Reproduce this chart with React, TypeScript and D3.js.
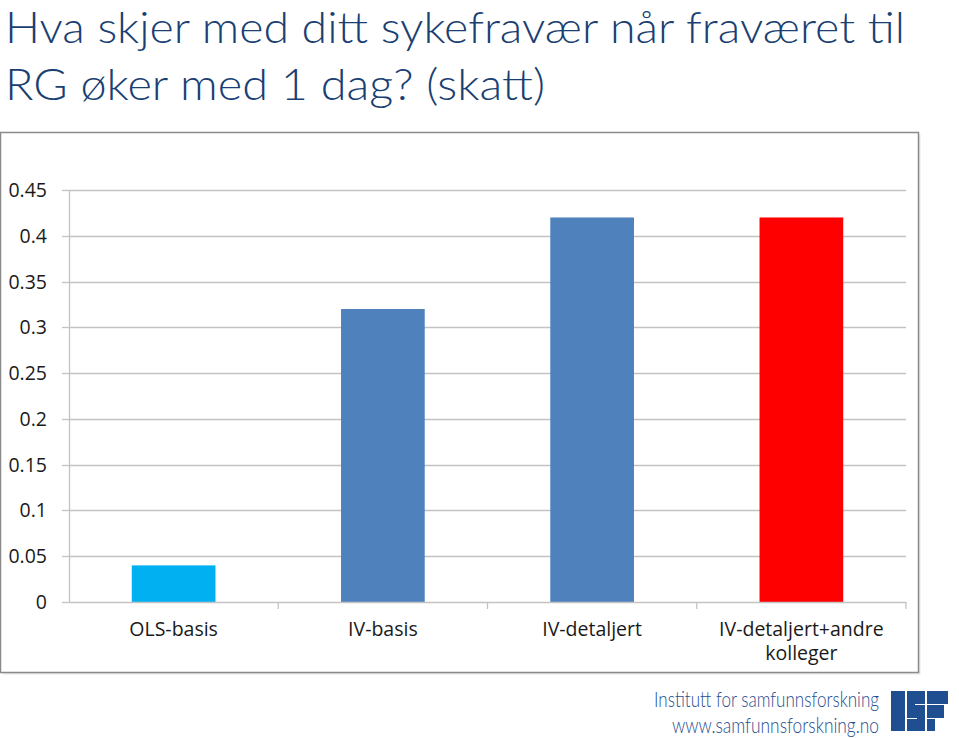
import React from "react";
import * as d3 from "d3";

const categories = ["OLS-basis", "IV-basis", "IV-detaljert", "IV-detaljert+andre kolleger"];
const categoryLines = [["OLS-basis"], ["IV-basis"], ["IV-detaljert"], ["IV-detaljert+andre", "kolleger"]];
const values = [0.04, 0.32, 0.42, 0.42];
const barColors = ["#00B0F0", "#4F81BD", "#4F81BD", "#FF0000"];
const yTicks = [0, 0.05, 0.1, 0.15, 0.2, 0.25, 0.3, 0.35, 0.4, 0.45];
const yTickLabels = ["0", "0.05", "0.1", "0.15", "0.2", "0.25", "0.3", "0.35", "0.4", "0.45"];
const titleLines = ["Hva skjer med ditt sykefravær når fraværet til", "RG øker med 1 dag? (skatt)"];
const footerLines = ["Institutt for samfunnsforskning", "www.samfunnsforskning.no"];

const W = 959;
const H = 738;
const plotLeft = 69;
const plotRight = 906;
const plotTop = 190;
const plotBottom = 602;

export default function App() {
  const x = d3.scaleBand<string>().domain(categories).range([plotLeft, plotRight]).padding(0);
  const y = d3.scaleLinear().domain([0, 0.45]).range([plotBottom, plotTop]);
  const bw = x.bandwidth() * 0.4;
  const gridColor = "#c3c3c3";
  const axisFont = "'Open Sans', 'DejaVu Sans', sans-serif";
  const titleColor = "#1a3f72";
  const logoColor = "#1f4e91";

  return (
    <svg
      width={W}
      height={H}
      style={{ position: "fixed", left: 0, top: 0, background: "#fff" }}
    >
      <rect x={0} y={0} width={W} height={H} fill="#fff" />
      {/* Title */}
      <text x={5} y={42.5} fontFamily="Lato, 'Open Sans', sans-serif" fontWeight={300} fontSize={43} fill={titleColor}
        textLength={900} lengthAdjust="spacingAndGlyphs">{titleLines[0]}</text>
      <text x={5} y={99.5} fontFamily="Lato, 'Open Sans', sans-serif" fontWeight={300} fontSize={43} fill={titleColor}
        textLength={540} lengthAdjust="spacingAndGlyphs">{titleLines[1]}</text>

      {/* Chart frame */}
      <rect x={2.5} y={134.5} width={918} height={540} fill="#e8e8e8" />
      <rect x={0.5} y={132.5} width={918} height={540} fill="#fff" stroke="#8a8a8a" strokeWidth={1.5} />

      {/* Gridlines */}
      {yTicks.filter((t) => t > 0).map((t) => (
        <line key={"g" + t} x1={plotLeft} x2={plotRight} y1={Math.round(y(t)) + 0.5} y2={Math.round(y(t)) + 0.5}
          stroke={gridColor} strokeWidth={1.3} />
      ))}

      {/* Bars */}
      {categories.map((c, i) => (
        <rect key={c} x={(x(c) as number) + (x.bandwidth() - bw) / 2} y={y(values[i])}
          width={bw} height={y(0) - y(values[i])} fill={barColors[i]} />
      ))}

      {/* Y axis */}
      <line x1={plotLeft + 0.5} x2={plotLeft + 0.5} y1={plotTop} y2={plotBottom} stroke={gridColor} strokeWidth={1.3} />
      {yTicks.map((t, i) => (
        <g key={"yt" + t}>
          <line x1={plotLeft - 7} x2={plotLeft} y1={Math.round(y(t)) + 0.5} y2={Math.round(y(t)) + 0.5}
            stroke={gridColor} strokeWidth={1.3} />
          <text x={47} y={y(t)} dy="0.36em" textAnchor="end" fontFamily={axisFont} fontSize={19.5} fill="#1a1a1a">
            {yTickLabels[i]}
          </text>
        </g>
      ))}

      {/* X axis */}
      <line x1={plotLeft} x2={plotRight} y1={plotBottom + 0.5} y2={plotBottom + 0.5} stroke={gridColor} strokeWidth={1.3} />
      {categories.map((c) => (
        <line key={"xt" + c} x1={(x(c) as number) + x.bandwidth()} x2={(x(c) as number) + x.bandwidth()}
          y1={plotBottom} y2={plotBottom + 7} stroke={gridColor} strokeWidth={1.3} />
      ))}
      {categories.map((c, i) => (
        <text key={"xl" + c} x={(x(c) as number) + x.bandwidth() / 2} y={635.5} textAnchor="middle"
          fontFamily={axisFont} fontSize={19.5} fill="#1a1a1a">
          {categoryLines[i].map((l, j) => (
            <tspan key={j} x={(x(c) as number) + x.bandwidth() / 2} dy={j === 0 ? 0 : 24.5}>{l}</tspan>
          ))}
        </text>
      ))}

      {/* Footer */}
      <text x={879} y={707} textAnchor="end" fontFamily="Lato, 'Open Sans', sans-serif" fontWeight={300} fontSize={21} fill={logoColor}
        textLength={225} lengthAdjust="spacingAndGlyphs">{footerLines[0]}</text>
      <text x={879} y={733} textAnchor="end" fontFamily="Lato, 'Open Sans', sans-serif" fontWeight={300} fontSize={21} fill={logoColor}
        textLength={207} lengthAdjust="spacingAndGlyphs">{footerLines[1]}</text>

      {/* ISF logo */}
      <g fill={logoColor}>
        {/* I */}
        <rect x={891} y={691} width={14} height={40} />
        {/* S */}
        <rect x={907} y={691} width={18} height={13} />
        <rect x={907} y={704} width={8} height={1} />
        <rect x={907} y={705} width={18} height={13} />
        <rect x={917} y={718} width={8} height={1} />
        <rect x={907} y={719} width={18} height={12} />
        {/* F */}
        <rect x={927} y={691} width={21} height={13} />
        <rect x={927} y={705} width={17} height={13} />
        <rect x={927} y={719} width={8} height={12} />
      </g>
    </svg>
  );
}
